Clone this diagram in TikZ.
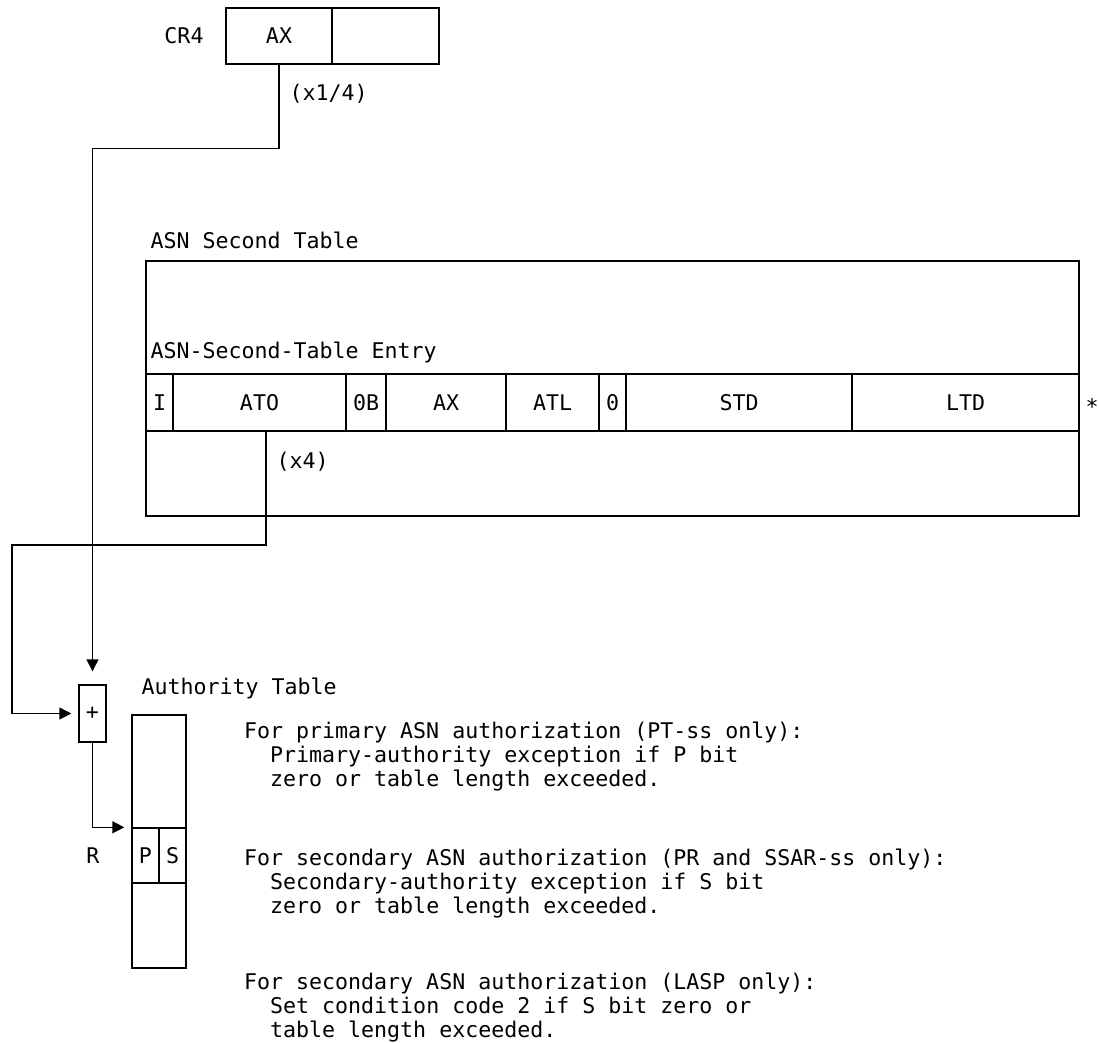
\documentclass[tikz,border=0pt]{standalone}
\usepackage{fontspec}
\setmainfont{DejaVu Sans Mono}
\usetikzlibrary{arrows.meta}

\begin{document}
\begin{tikzpicture}[x=1pt,y=-1pt,
	every node/.style={font=\fontsize{21.6}{24}\selectfont},
	field/.style={draw,line width=1.4pt,inner sep=0pt,minimum height=57pt},
	link/.style={line width=1.4pt},
	tip/.style={-{Triangle[length=12pt,width=12pt]}},
	note/.style={anchor=north west,align=left,inner sep=0pt}]

	\useasboundingbox (0,0) rectangle (1099,1042);

%	control register 4
	\node (cr4) at (184,36) {CR4};
	\node[field,minimum width=106pt,minimum height=56pt] (cr4ax) at (279,36) {AX};
	\node[field,minimum width=107pt,minimum height=56pt] (cr4lo) at (385.5,36) {};
	\node[anchor=west] (div4) at (286,94) {(x1/4)};

%	ASN second table
	\node[anchor=west] (asnlbl) at (147,240) {ASN Second Table};
	\node[field,minimum width=933pt,minimum height=255pt] (asn) at (612.5,388.5) {};
	\node[anchor=west] (entrylbl) at (147,352) {ASN-Second-Table Entry};
	\node[field,minimum width=27pt] (ibit) at (159.5,402.5) {I};
	\node[field,minimum width=173pt] (ato) at (259.5,402.5) {ATO};
	\node[field,minimum width=40pt] (zb) at (366,402.5) {0B};
	\node[field,minimum width=120pt] (ax) at (446,402.5) {AX};
	\node[field,minimum width=93pt] (atl) at (552.5,402.5) {ATL};
	\node[field,minimum width=27pt] (zero) at (612.5,402.5) {0};
	\node[field,minimum width=226pt] (std) at (739,402.5) {STD};
	\node[field,minimum width=227pt] (ltd) at (965.5,402.5) {LTD};
	\node[anchor=base] (star) at (1092,414) {*};
	\node[anchor=west] (mul4) at (273,462) {(x4)};

%	adder and authority table
	\node[field,minimum width=27pt] (plus) at (92.5,713.5) {+};
	\node[anchor=west] (authlbl) at (138,688) {Authority Table};
	\node[field,minimum width=54pt,minimum height=253pt] (auth) at (159,841.5) {};
	\node[field,minimum width=27pt,minimum height=55pt] (pbit) at (145.5,855.5) {P};
	\node[field,minimum width=27pt,minimum height=55pt] (sbit) at (172.5,855.5) {S};
	\node (rlbl) at (93,856) {R};

	\coordinate (atoout) at (266,431);
	\draw[link,tip,shorten >=13pt] (cr4ax.south) -- ++(0,84) -| (plus.north);
	\draw[link,tip,shorten >=7pt] (atoout) -- ++(0,114) -- ++(-254,0) |- (plus.west);
	\draw[link,tip,shorten >=7pt] (plus.south) |- (pbit.north west);

%	notes
	\node[note] (note1) at (244,722) {For primary ASN authorization (PT-ss only):\\
		\phantom{xx}Primary-authority exception if P bit\\
		\phantom{xx}zero or table length exceeded.};
	\node[note] (note2) at (244,849) {For secondary ASN authorization (PR and SSAR-ss only):\\
		\phantom{xx}Secondary-authority exception if S bit\\
		\phantom{xx}zero or table length exceeded.};
	\node[note] (note3) at (244,973) {For secondary ASN authorization (LASP only):\\
		\phantom{xx}Set condition code 2 if S bit zero or\\
		\phantom{xx}table length exceeded.};

\end{tikzpicture}
\end{document}
